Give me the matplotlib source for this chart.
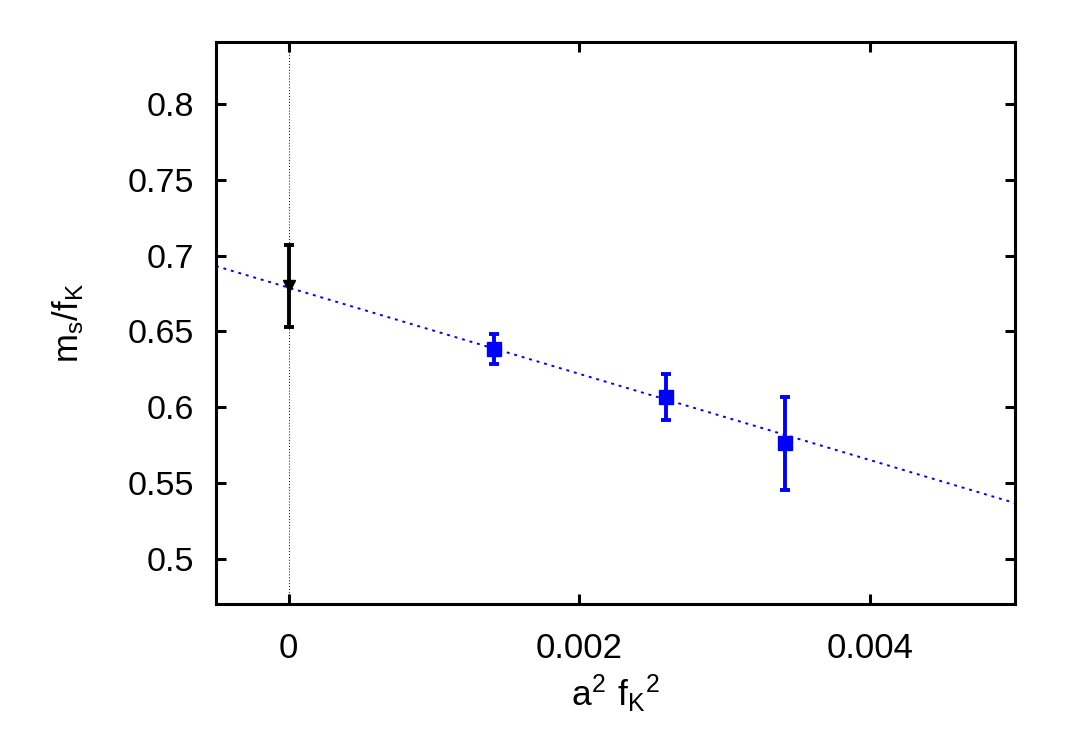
import matplotlib.pyplot as plt
import numpy as np

plt.rcParams['font.family'] = ['Liberation Sans', 'DejaVu Sans']
plt.rcParams['mathtext.default'] = 'regular'

# continuum value at a=0
x_cont = [0.0]
y_cont = [0.6797]
err_cont = [0.0271]

# lattice points
a2fk2 = [0.001414, 0.0026, 0.00342]
ms_fk = [0.6385, 0.6068, 0.5760]
ms_err = [0.0098, 0.0150, 0.0305]

# linear fit parameters
fit_c = 0.6789
fit_slope = -28.45

fig = plt.figure(figsize=(10.68, 7.47), dpi=100)
ax = fig.add_axes([0.2022, 0.1914, 0.7482, 0.7524])

xs = np.array([-0.0005, 0.005])
ax.plot(xs, fit_c + fit_slope * xs, ls=(0, (1.5, 2.5)), color='#0000ff', lw=1.4)
ax.axvline(0, color='black', ls=(0, (1, 2)), lw=0.7)

ax.errorbar(a2fk2, ms_fk, yerr=ms_err, fmt='s', color='#0000ff', ms=10,
            elinewidth=2.8, capsize=3.5, capthick=2.8)
ax.errorbar(x_cont, y_cont, yerr=err_cont, fmt='v', color='black', ms=8,
            elinewidth=2.8, capsize=3.5, capthick=2.8)

ax.set_xlim(-0.0005, 0.005)
ax.set_ylim(0.47, 0.8411)
ax.set_xticks([0, 0.002, 0.004])
ax.set_xticklabels(['0', '0.002', '0.004'], fontsize=25)
ax.set_yticks([0.5, 0.55, 0.6, 0.65, 0.7, 0.75, 0.8])
ax.set_yticklabels(['0.5', '0.55', '0.6', '0.65', '0.7', '0.75', '0.8'], fontsize=24.5)
ax.tick_params(direction='in', top=True, right=True, length=7.5, width=2.2, pad=16)
ax.tick_params(axis='x', pad=20)
for s in ax.spines.values():
    s.set_linewidth(2.2)

ax.set_xlabel(r'$a^2\ f_K{}^2$', fontsize=25.5, labelpad=6)
ax.set_ylabel(r'$m_s/f_K$', fontsize=25, labelpad=30)

fig.savefig('out.png', dpi=100)
